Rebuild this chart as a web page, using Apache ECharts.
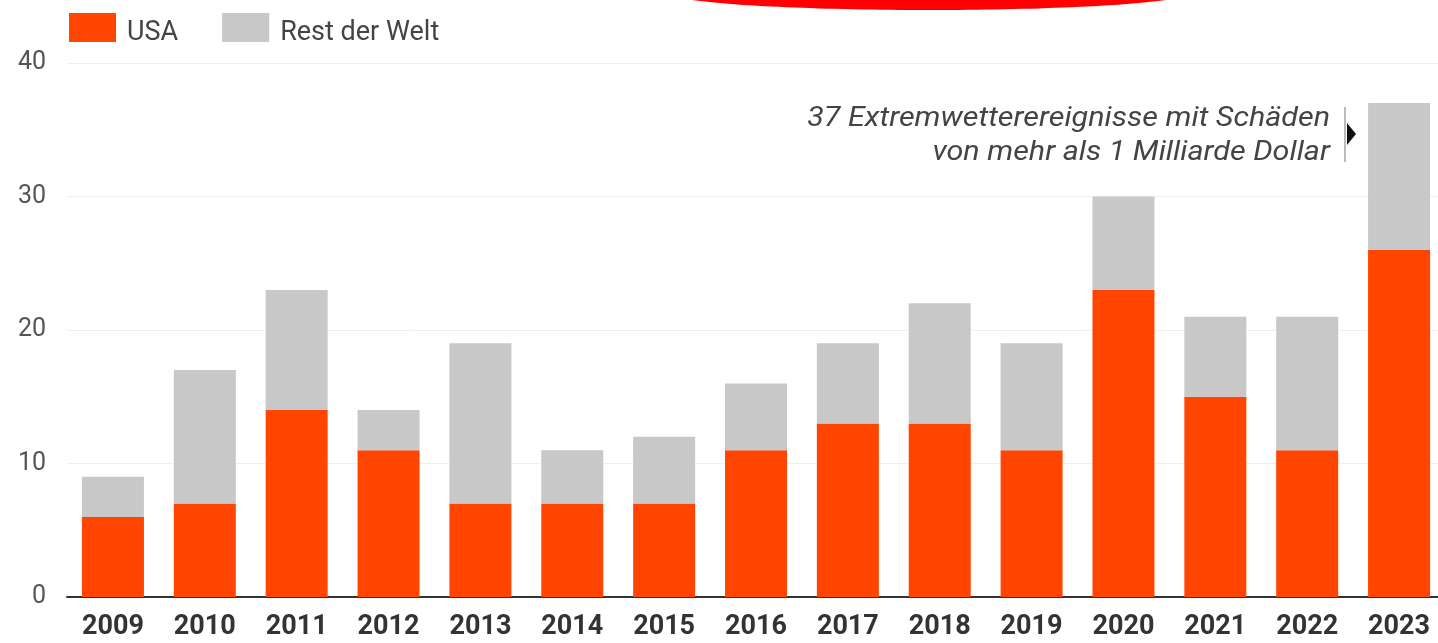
<!DOCTYPE html>
<html>
<head>
<meta charset="utf-8">
<script src="https://cdn.jsdelivr.net/npm/echarts@6/dist/echarts.min.js"></script>
<style>
html,body{margin:0;padding:0;background:#fff;overflow:hidden;}
#chart{width:1446px;height:643px;}
</style>
</head>
<body>
<div id="chart"></div>
<script>
const years = ['2009','2010','2011','2012','2013','2014','2015','2016','2017','2018','2019','2020','2021','2022','2023'];
const usa  = [6, 7, 14, 11, 7, 7, 7, 11, 13, 13, 11, 23, 15, 11, 26];
const rest = [3, 10, 9, 3, 12, 4, 5, 5, 6, 9, 8, 7, 6, 10, 11];
const yTicks = [0, 10, 20, 30, 40];
const seriesNames = ['USA', 'Rest der Welt'];
const noteLines = ['37 Extremwetterereignisse mit Schäden', 'von mehr als 1 Milliarde Dollar'];

const chart = echarts.init(document.getElementById('chart'));
const font = 'Roboto, "Noto Sans", sans-serif';

chart.setOption({
  animation: false,
  backgroundColor: '#ffffff',
  textStyle: { fontFamily: font },
  legend: {
    data: seriesNames,
    left: 64,
    top: 8,
    itemWidth: 47,
    itemHeight: 29,
    itemGap: 44,
    icon: 'rect',
    formatter: '{t|{name}}',
    textStyle: {
      fontSize: 27, color: '#444', fontFamily: font,
      rich: { t: { fontSize: 27, color: '#444', fontFamily: font, padding: [12, 0, 0, 6] } }
    }
  },
  grid: { left: 67, right: 1, top: 63, bottom: 46, containLabel: false },
  xAxis: {
    type: 'category',
    data: years,
    axisTick: { show: false },
    axisLine: { show: true, lineStyle: { color: '#333', width: 2 } },
    axisLabel: { fontSize: 27, fontWeight: 'bold', color: '#333', margin: 17, fontFamily: font, interval: 0 }
  },
  yAxis: {
    type: 'value',
    min: yTicks[0],
    max: yTicks[yTicks.length - 1],
    interval: 10,
    axisLine: { show: false },
    axisTick: { show: false },
    splitLine: { lineStyle: { color: '#f0f0f0', width: 1 } },
    axisLabel: { fontSize: 25, color: '#555', margin: 21, fontFamily: font }
  },
  series: [
    { name: seriesNames[0], type: 'bar', stack: 'total', data: usa, barWidth: 62, itemStyle: { color: '#ff4500' } },
    { name: seriesNames[1], type: 'bar', stack: 'total', data: rest, barWidth: 62, itemStyle: { color: '#c8c8c8' } }
  ],
  graphic: [
    { type: 'ellipse', shape: { cx: 929, cy: -7, rx: 260, ry: 17 }, style: { fill: '#ff0000' }, z: 100 },
    { type: 'text', x: 1330, y: 102, scaleX: 1.13, style: { text: noteLines.join('\n'), fontSize: 27, fontStyle: 'italic', fill: '#444', align: 'right', verticalAlign: 'top', lineHeight: 34, fontFamily: font } },
    { type: 'line', shape: { x1: 1345, y1: 107, x2: 1345, y2: 162 }, style: { stroke: '#bbbbbb', lineWidth: 2 } },
    { type: 'polygon', shape: { points: [[1347, 123], [1356, 134], [1347, 145]] }, style: { fill: '#111' } }
  ]
});
</script>
</body>
</html>
